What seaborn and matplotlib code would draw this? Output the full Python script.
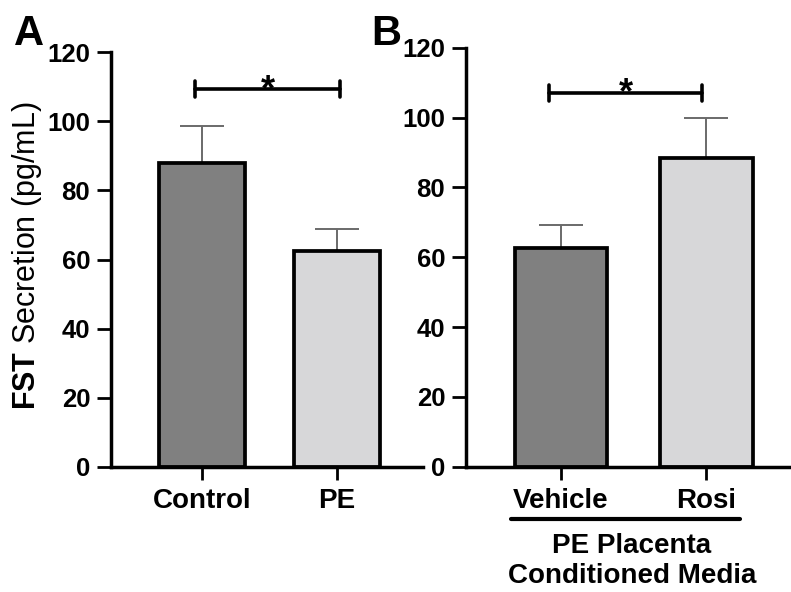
import numpy as np
import pandas as pd
import seaborn as sns
import matplotlib.pyplot as plt
import matplotlib.transforms as mtransforms

# data
groups_a = ['Control', 'PE']
means_a = [88.0, 62.5]
sem_a = [10.5, 6.3]

groups_b = ['Vehicle', 'Rosi']
means_b = [62.7, 88.5]
sem_b = [6.4, 11.5]

y_ticks = [0, 20, 40, 60, 80, 100, 120]
bar_colors = ['#808080', '#d7d7d9']

sns.set_style('ticks')
plt.rcParams['font.family'] = ['Liberation Sans', 'DejaVu Sans']
plt.rcParams['mathtext.fontset'] = 'custom'
plt.rcParams['mathtext.bf'] = 'Liberation Sans:bold'
plt.rcParams['mathtext.rm'] = 'Liberation Sans'
for key in ['text.color', 'axes.labelcolor', 'xtick.color', 'ytick.color', 'axes.edgecolor']:
    plt.rcParams[key] = 'black'

W, H = 791, 592
fig = plt.figure(figsize=(W / 100, H / 100), dpi=100)

# axes rectangles in pixels
ax_a = fig.add_axes([111 / W, (H - 467) / H, (423 - 111) / W, (467 - 52) / H])
ax_b = fig.add_axes([466 / W, (H - 466.7) / H, (W - 466) / W, (466.7 - 47.7) / H])


def draw_panel(ax, groups, means, sems, xlim, bracket):
    df = pd.DataFrame({'group': groups, 'value': means})
    sns.barplot(data=df, x='group', y='value', hue='group', palette=bar_colors,
                legend=False, errorbar=None, width=0.635, edgecolor='black',
                linewidth=2.7, ax=ax)
    ax.errorbar(x=np.arange(len(groups)), y=means, yerr=[np.zeros(len(sems)), sems],
                fmt='none', ecolor='#6a6a6a', elinewidth=1.4, capsize=15.8,
                capthick=1.4, zorder=0.5)
    ax.set_ylim(0, 120)
    ax.set_xlim(*xlim)
    ax.set_yticks(y_ticks)
    ax.set_yticklabels([str(t) for t in y_ticks], fontsize=18.5, fontweight='bold')
    ax.set_xticks(range(len(groups)))
    ax.set_xticklabels(groups, fontsize=20, fontweight='bold')
    ax.set_xlabel('')
    ax.set_ylabel('')
    for s in ['top', 'right']:
        ax.spines[s].set_visible(False)
    for s in ['left', 'bottom']:
        ax.spines[s].set_linewidth(2.5)
    ax.tick_params(axis='y', length=10, width=2.0, pad=5)
    ax.tick_params(axis='x', length=9, width=2.0, pad=6)
    ax.set_facecolor('white')

    # significance bracket
    x0, x1, yb = bracket
    ax.plot([x0, x1], [yb, yb], color='black', lw=2.6, clip_on=False)
    ax.plot([x0, x0], [yb - 2.3, yb + 2.3], color='black', lw=2.6, clip_on=False)
    ax.plot([x1, x1], [yb - 2.3, yb + 2.3], color='black', lw=2.6, clip_on=False)
    ax.text((x0 + x1) / 2, yb - 3.0, '*', ha='center', va='baseline',
            fontsize=26, fontweight='bold')


draw_panel(ax_a, groups_a, means_a, sem_a, (-0.674, 1.637), (-0.05, 1.02, 109.2))
draw_panel(ax_b, groups_b, means_b, sem_b, (-0.653, 1.581), (-0.08, 0.97, 107.0))

# y label with bold FST
ax_a.set_ylabel(r'$\mathbf{FST}$ Secretion (pg/mL)', fontsize=22)
ax_a.yaxis.set_label_coords(-0.215, 0.51)

# group annotation under panel B
trans = mtransforms.blended_transform_factory(ax_b.transData, ax_b.transAxes)
ax_b.plot([-0.344, 1.23], [-0.125, -0.125], color='black', lw=3, transform=trans,
          clip_on=False)
ax_b.text(0.488, -0.158, 'PE Placenta\nConditioned Media', transform=trans,
          ha='center', va='top', fontsize=20, fontweight='bold', linespacing=1.2)

# panel letters
fig.text(14 / W, 1 - 45 / H, 'A', fontsize=30, fontweight='bold', va='baseline')
fig.text(371 / W, 1 - 45 / H, 'B', fontsize=30, fontweight='bold', va='baseline')

fig.savefig('out.png', dpi=100, facecolor='white')
